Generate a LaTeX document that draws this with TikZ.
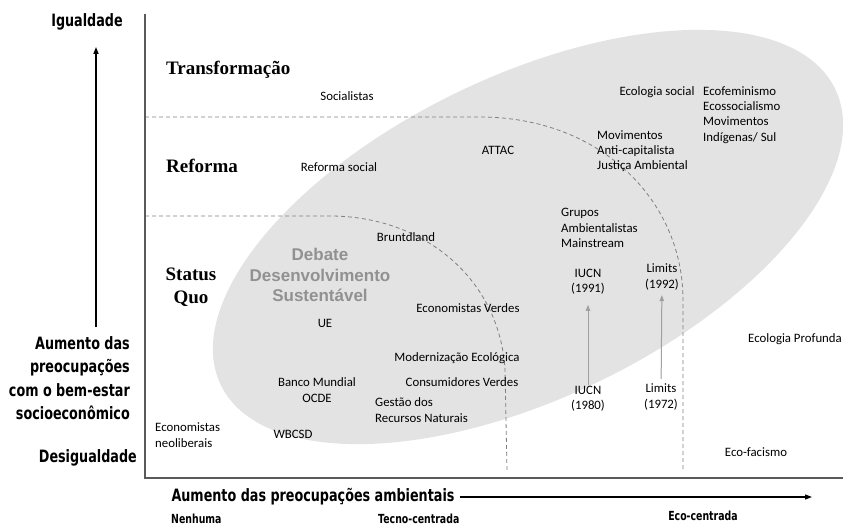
\documentclass[tikz,border=0pt]{standalone}
\usepackage{fontspec}
\setmainfont{Liberation Serif}
\newfontfamily\calibri{Carlito}
\newfontfamily\arialf{Liberation Sans}
\newfontfamily\futura[FakeStretch=0.75]{DejaVu Sans}
\usetikzlibrary{arrows.meta,positioning}

\definecolor{blobgray}{RGB}{227,227,227}
\definecolor{dashgray}{RGB}{128,128,128}
\definecolor{debgray}{RGB}{145,145,145}
\definecolor{axisgray}{RGB}{90,90,90}
\definecolor{histgray}{RGB}{160,160,160}

\tikzset{
  actor/.style={font=\calibri\fontsize{12.8}{15.3}\selectfont, inner sep=0pt, align=left},
  tier/.style={font=\bfseries\fontsize{19}{23}\selectfont, inner sep=0pt, align=center},
  axlabel/.style={font=\futura\bfseries\fontsize{17}{23.5}\selectfont, inner sep=0pt},
  axsmall/.style={font=\futura\bfseries\fontsize{12.5}{14}\selectfont, inner sep=0pt},
  debate/.style={font=\arialf\bfseries\fontsize{17}{20.5}\selectfont, text=debgray, align=center, inner sep=0pt},
  boundary/.style={draw=dashgray, line width=0.8pt, dash pattern=on 4pt off 3pt},
  axisline/.style={draw=axisgray, line width=1.3pt},
  bigarrow/.style={line width=1.4pt, -{Triangle[length=7pt,width=5pt]}},
  histarrow/.style={draw=histgray, fill=histgray, line width=1pt, -{Triangle[length=6pt,width=4.5pt]}},
}

\begin{document}
\begin{tikzpicture}[x=1pt, y=-1pt]
  \useasboundingbox (0,0) rectangle (843,527);

  % Sustainable development blob
  \fill[blobgray, rotate around={25.7:(528,237)}] (528,237) ellipse [x radius=341pt, y radius=161pt];

  % Boundaries between the levels
  \draw[boundary] (145,117) -- (480,117) .. controls (600,117) and (683,200) .. (683,300) -- (683,471);
  \draw[boundary] (145,216) -- (330,216) .. controls (425,216) and (500,280) .. (505,370) -- (507,471);

  % Axes
  \coordinate (ytop) at (145,14);
  \coordinate (origin) at (145,478);
  \coordinate (xend) at (843,478);
  \draw[axisline] (ytop) -- (origin) -- (xend);

  % Vertical axis labels
  \node[axlabel] (igualdade) at (87,22) {Igualdade};
  \node[axlabel, anchor=east, align=right] (bemestar) at (130,378) {Aumento das\\preocupações\\com o bem-estar\\socioeconômico};
  \node[axlabel, anchor=east] (desigualdade) at (137,458) {Desigualdade};
  \coordinate (vfrom) at (96,327);
  \coordinate (vto) at (96,47);
  \draw[bigarrow] (vfrom) -- (vto);

  % Horizontal axis labels
  \node[axlabel] (ambiental) at (313,497) {Aumento das preocupações ambientais};
  \coordinate (hto) at (812,497);
  \draw[bigarrow, line width=1.2pt] ([xshift=5pt]ambiental.east) -- (hto);
  \node[axsmall, anchor=west] (nenhuma) at (171,519) {Nenhuma};
  \node[axsmall, anchor=west] (tecno) at (378,519) {Tecno-centrada};
  \node[axsmall] (ecocentrada) at (703,516) {Eco-centrada};

  % Levels
  \node[tier, anchor=west] (transformacao) at (166,70) {Transformação};
  \node[tier, anchor=west] (reforma) at (166,166) {Reforma};
  \node[tier] (statusquo) at (191,287) {Status\\Quo};

  % Debate
  \node[debate] (debate) at (320,275) {Debate\\Desenvolvimento\\Sustentável};

  % Actors
  \node[actor] (socialistas) at (347,96) {Socialistas};
  \node[actor] (refsocial) at (339,167) {Reforma social};
  \node[actor] (attac) at (498,150) {ATTAC};
  \node[actor] (ecosocial) at (657,92) {Ecologia social};
  \node[actor, anchor=west] (ecofem) at (703,115) {Ecofeminismo\\Ecossocialismo\\Movimentos\\Indígenas/ Sul};
  \node[actor, anchor=west] (movimentos) at (597,151) {Movimentos\\Anti-capitalista\\Justiça Ambiental};
  \node[actor, anchor=west] (grupos) at (561,228) {Grupos\\Ambientalistas\\Mainstream};
  \node[actor] (bruntdland) at (406,237) {Bruntdland};
  \node[actor] (ue) at (325,323) {UE};
  \node[actor] (ecoverdes) at (468,308) {Economistas Verdes};
  \node[actor] (modernizacao) at (457,358) {Modernização Ecológica};
  \node[actor] (consumidores) at (462,382) {Consumidores Verdes};
  \node[actor, align=center] (banco) at (317,390) {Banco Mundial\\OCDE};
  \node[actor, anchor=west] (gestao) at (375,410) {Gestão dos\\Recursos Naturais};
  \node[actor] (wbcsd) at (293,434) {WBCSD};
  \node[actor, anchor=west] (neoliberais) at (155,435) {Economistas\\neoliberais};
  \node[actor, align=center] (iucnB) at (588,282) {IUCN\\(1991)};
  \node[actor, align=center] (limitsB) at (662,277) {Limits\\(1992)};
  \node[actor, align=center] (iucnA) at (588,399) {IUCN\\(1980)};
  \node[actor, align=center] (limitsA) at (661,397) {Limits\\(1972)};
  \node[actor, anchor=west] (profunda) at (748,339) {Ecologia Profunda};
  \node[actor] (ecofacismo) at (756,452) {Eco-facismo};

  % Shifts over time
  \foreach \from/\to/\s/\e in {iucnA/iucnB/1/10, limitsA/limitsB/5/5}
    \draw[histarrow, shorten <=\s pt, shorten >=\e pt] (\from) -- (\to);
\end{tikzpicture}
\end{document}
